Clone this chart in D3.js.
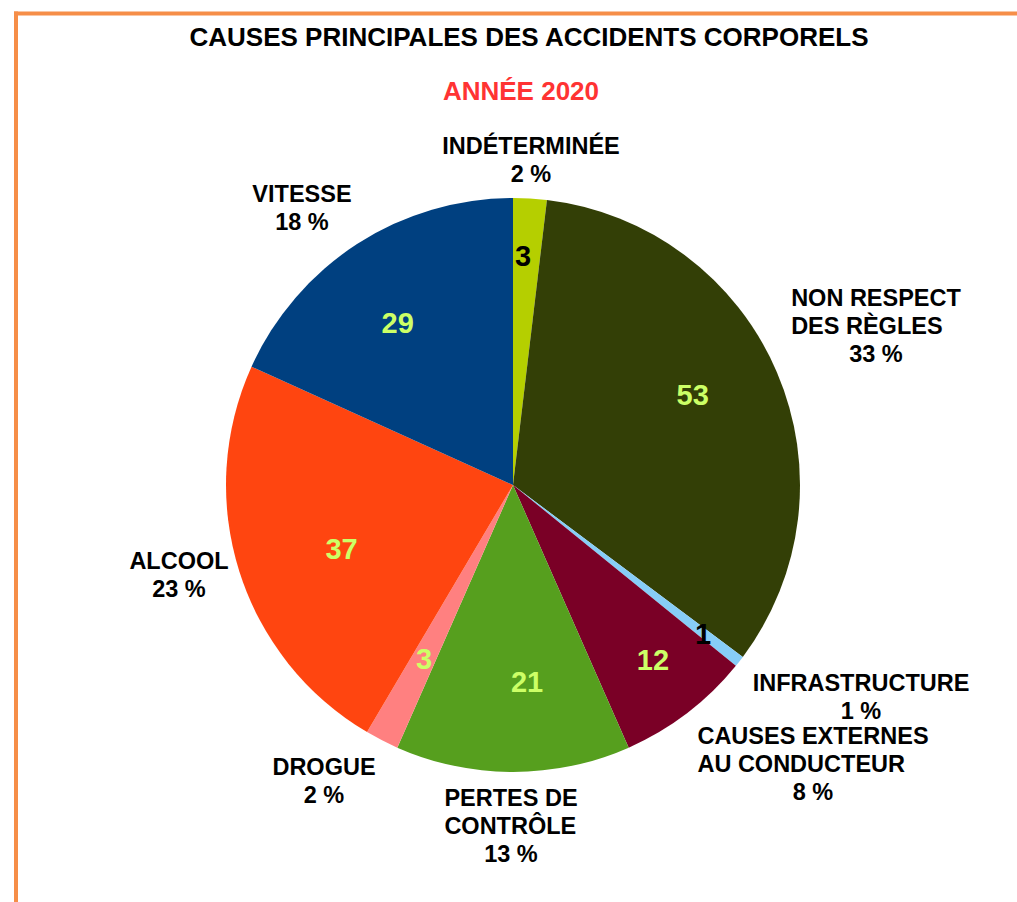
<!DOCTYPE html>
<html>
<head>
<meta charset="utf-8">
<script src="https://cdn.jsdelivr.net/npm/d3@7"></script>
<style>
  body { margin: 0; background: #fff; }
  text { font-family: "Liberation Sans", Arial, sans-serif; font-weight: bold; }
</style>
</head>
<body>
<script>
// data, clockwise from the top
var categories = ["INDÉTERMINÉE", "NON RESPECT\nDES RÈGLES", "INFRASTRUCTURE", "CAUSES EXTERNES\nAU CONDUCTEUR",
                  "PERTES DE\nCONTRÔLE", "DROGUE", "ALCOOL", "VITESSE"];
var counts = [3, 53, 1, 12, 21, 3, 37, 29];
var percents = ["2 %", "33 %", "1 %", "8 %", "13 %", "2 %", "23 %", "18 %"];
var colors = ["#b5cf00", "#333f06", "#87cdf7", "#7a0026", "#569f1e", "#ff8080", "#ff4510", "#004080"];

var W = 1017, H = 902;
var cx = 513, cy = 485, R = 287;

// layout only: where each label block sits, and where the inner count goes
var outerPos = [[531, 154], [876, 306], [861, 691], [813, 744], [511, 806], [324, 775], [179, 569], [302, 202]];
var innerR = [230, 201, 241, 224, 197, 195, 183, 199];
var innerShift = [-0.9, -3.4, 0, -1.3, -4.1, 0, -2.9, -2.6]; // degrees, bestFit nudge
var innerDark = [true, false, true, false, false, false, false, false];

var svg = d3.select("body").append("svg")
  .attr("width", W)
  .attr("height", H);

// orange frame (top + left only)
svg.append("line").attr("x1", 14).attr("x2", W).attr("y1", 13.5).attr("y2", 13.5)
  .attr("stroke", "#f68e48").attr("stroke-width", 4);
svg.append("line").attr("x1", 16).attr("x2", 16).attr("y1", 11.5).attr("y2", H)
  .attr("stroke", "#f68e48").attr("stroke-width", 4);

svg.append("text").attr("x", 529).attr("y", 46)
  .attr("text-anchor", "middle").attr("font-size", 26).attr("fill", "#000")
  .text("CAUSES PRINCIPALES DES ACCIDENTS CORPORELS");
svg.append("text").attr("x", 521).attr("y", 100)
  .attr("text-anchor", "middle").attr("font-size", 26).attr("fill", "#ff3333")
  .text("ANNÉE 2020");

var pie = d3.pie().sort(null).value(function(d){ return d; });
var arcs = pie(counts);
var arc = d3.arc().innerRadius(0).outerRadius(R);

var g = svg.append("g").attr("transform", "translate(" + cx + "," + cy + ")");

g.selectAll("path").data(arcs).enter().append("path")
  .attr("d", arc)
  .attr("fill", function(d, i){ return colors[i]; });

// counts inside the slices
g.selectAll(".inner").data(arcs).enter().append("text")
  .attr("class", "inner")
  .attr("transform", function(d, i){
    var a = (d.startAngle + d.endAngle) / 2 + innerShift[i] * Math.PI / 180;
    return "translate(" + (innerR[i] * Math.sin(a)) + "," + (-innerR[i] * Math.cos(a)) + ")";
  })
  .attr("dy", "0.36em")
  .attr("text-anchor", "middle")
  .attr("font-size", 29)
  .attr("fill", function(d, i){ return innerDark[i] ? "#000" : "#ccff66"; })
  .text(function(d){ return d.data; });

// outside labels: name lines left aligned as a block, percent centered
categories.forEach(function(name, i){
  var lines = name.split("\n");
  var p = outerPos[i];
  var grp = svg.append("g");
  var tmp = lines.map(function(l, k){
    return grp.append("text").attr("font-size", 23.5).attr("fill", "#000")
      .attr("y", p[1] + k * 27.5).text(l);
  });
  var maxW = d3.max(tmp, function(t){ return t.node().getComputedTextLength(); });
  tmp.forEach(function(t){ t.attr("x", p[0] - maxW / 2); });
  grp.append("text").attr("font-size", 23.5).attr("fill", "#000")
    .attr("text-anchor", "middle")
    .attr("x", p[0]).attr("y", p[1] + lines.length * 27.8)
    .text(percents[i]);
});
</script>
</body>
</html>
